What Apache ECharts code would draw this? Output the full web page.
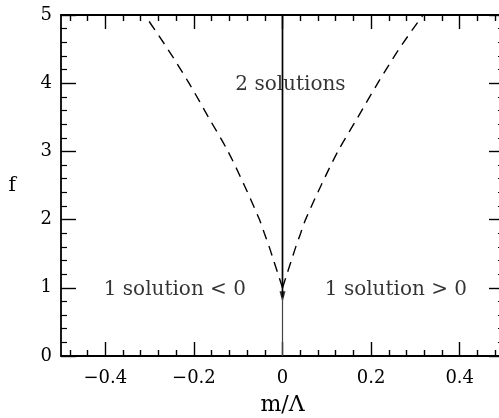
<!DOCTYPE html>
<html><head><meta charset="utf-8">
<script src="https://cdn.jsdelivr.net/npm/echarts@6/dist/echarts.min.js"></script>
<style>html,body{margin:0;padding:0;background:#fff}#c{width:499px;height:418px}</style>
</head><body><div id="c"></div>
<script>
// ---- data ----
const xMajorTicks = [-0.4, -0.2, 0, 0.2, 0.4];
const xMinorTicks = [-0.48, -0.44, -0.36, -0.32, -0.28, -0.24, -0.16, -0.12, -0.08, -0.04,
                     0.04, 0.08, 0.12, 0.16, 0.24, 0.28, 0.32, 0.36, 0.44, 0.48];
const fValues = [1.0, 1.2, 1.4, 1.6, 1.8, 2.0, 2.5, 3.0, 3.5, 4.0, 4.5, 5.0];
const mRight  = [0, 0.010, 0.020, 0.030, 0.041, 0.052, 0.087, 0.125, 0.170, 0.215, 0.263, 0.317];
const mLeft   = [0, -0.010, -0.020, -0.030, -0.041, -0.052, -0.086, -0.123, -0.167, -0.211, -0.259, -0.311];
const axisM = [0, 0, 0];
const axisF = [0, 0.86, 5];
const arrowM = 0;
const arrowF = 0.87;
const annotTexts = ['2 solutions', '1 solution < 0', '1 solution > 0'];
const annotM = [0.018, -0.243, 0.256];
const annotF = [3.97, 0.97, 0.97];

const FONT = 'DejaVu Serif';
const fmt = v => (v < 0 ? '\u2212' + Math.abs(v) : String(v));

function xAx(position, ticks, len, showLine, showLabel) {
  return {
    type: 'value', position: position, min: -0.5, max: 0.5,
    axisLine: { show: showLine, onZero: false, lineStyle: { color: '#000', width: 1.8 } },
    axisTick: { show: true, inside: true, length: len, customValues: ticks, lineStyle: { color: '#000', width: 1.4 } },
    axisLabel: { show: showLabel, customValues: ticks, formatter: fmt, margin: 13,
                 fontFamily: FONT, fontSize: 18, color: '#000' },
    splitLine: { show: false }
  };
}
function yAx(position, showLabel) {
  return {
    type: 'value', position: position, min: 0, max: 5, interval: 1,
    axisLine: { show: true, onZero: false, lineStyle: { color: '#000', width: 1.8 } },
    axisTick: { show: true, inside: true, length: 15, lineStyle: { color: '#000', width: 1.4 } },
    minorTick: { show: true, splitNumber: 5, length: 6, lineStyle: { color: '#000', width: 1.2 } },
    axisLabel: { show: showLabel, margin: 9, fontFamily: FONT, fontSize: 18, color: '#000' },
    splitLine: { show: false }
  };
}

const xA0 = xAx('bottom', xMajorTicks, 14, true, true);
xA0.name = 'm/\u039b';
xA0.nameLocation = 'middle';
xA0.nameGap = 38;
xA0.nameTextStyle = { fontFamily: FONT, fontSize: 22, color: '#000' };
const yA0 = yAx('left', true);
yA0.name = 'f';
yA0.nameLocation = 'middle';
yA0.nameRotate = 0;
yA0.nameGap = 45;
yA0.nameTextStyle = { fontFamily: FONT, fontSize: 20, color: '#000' };

const chart = echarts.init(document.getElementById('c'), null, { renderer: 'canvas' });
chart.setOption({
  animation: false,
  backgroundColor: '#fff',
  grid: { left: 61, top: 15, width: 443, height: 341, containLabel: false, outerBoundsMode: 'none' },
  xAxis: [
    xA0,
    xAx('bottom', xMinorTicks, 6, false, false),
    xAx('top', xMajorTicks, 14, true, false),
    xAx('top', xMinorTicks, 6, false, false)
  ],
  yAxis: [yA0, yAx('right', false)],
  series: [
    { type: 'line', xAxisIndex: 0, yAxisIndex: 0, symbol: 'none', smooth: 0.3,
      data: fValues.map((f, i) => [mLeft[i], f]),
      lineStyle: { color: '#000', width: 1.4, type: [10, 7] } },
    { type: 'line', xAxisIndex: 0, yAxisIndex: 0, symbol: 'none', smooth: 0.3,
      data: fValues.map((f, i) => [mRight[i], f]),
      lineStyle: { color: '#000', width: 1.4, type: [10, 7] } },
    { type: 'line', xAxisIndex: 0, yAxisIndex: 0, symbol: 'none',
      data: axisF.slice(1).map((f, i) => [axisM[i + 1], f]),
      lineStyle: { color: '#000', width: 1.7 } },
    { type: 'line', xAxisIndex: 0, yAxisIndex: 0, symbol: 'none',
      data: axisF.slice(0, 2).map((f, i) => [axisM[i], f]),
      lineStyle: { color: '#444', width: 1.2 } },
    { type: 'scatter', xAxisIndex: 0, yAxisIndex: 0, symbol: 'triangle', symbolSize: [6, 11],
      symbolRotate: 180, itemStyle: { color: '#000' },
      data: [[arrowM, arrowF]] },
    { type: 'scatter', xAxisIndex: 0, yAxisIndex: 0, symbolSize: 0,
      data: annotTexts.map((t, i) => ({ name: t, value: [annotM[i], annotF[i]] })),
      label: { show: true, position: 'inside', formatter: '{b}', fontFamily: FONT,
               fontSize: 20, color: '#000', textBorderWidth: 0 } }
  ]
});
</script>
</body></html>
